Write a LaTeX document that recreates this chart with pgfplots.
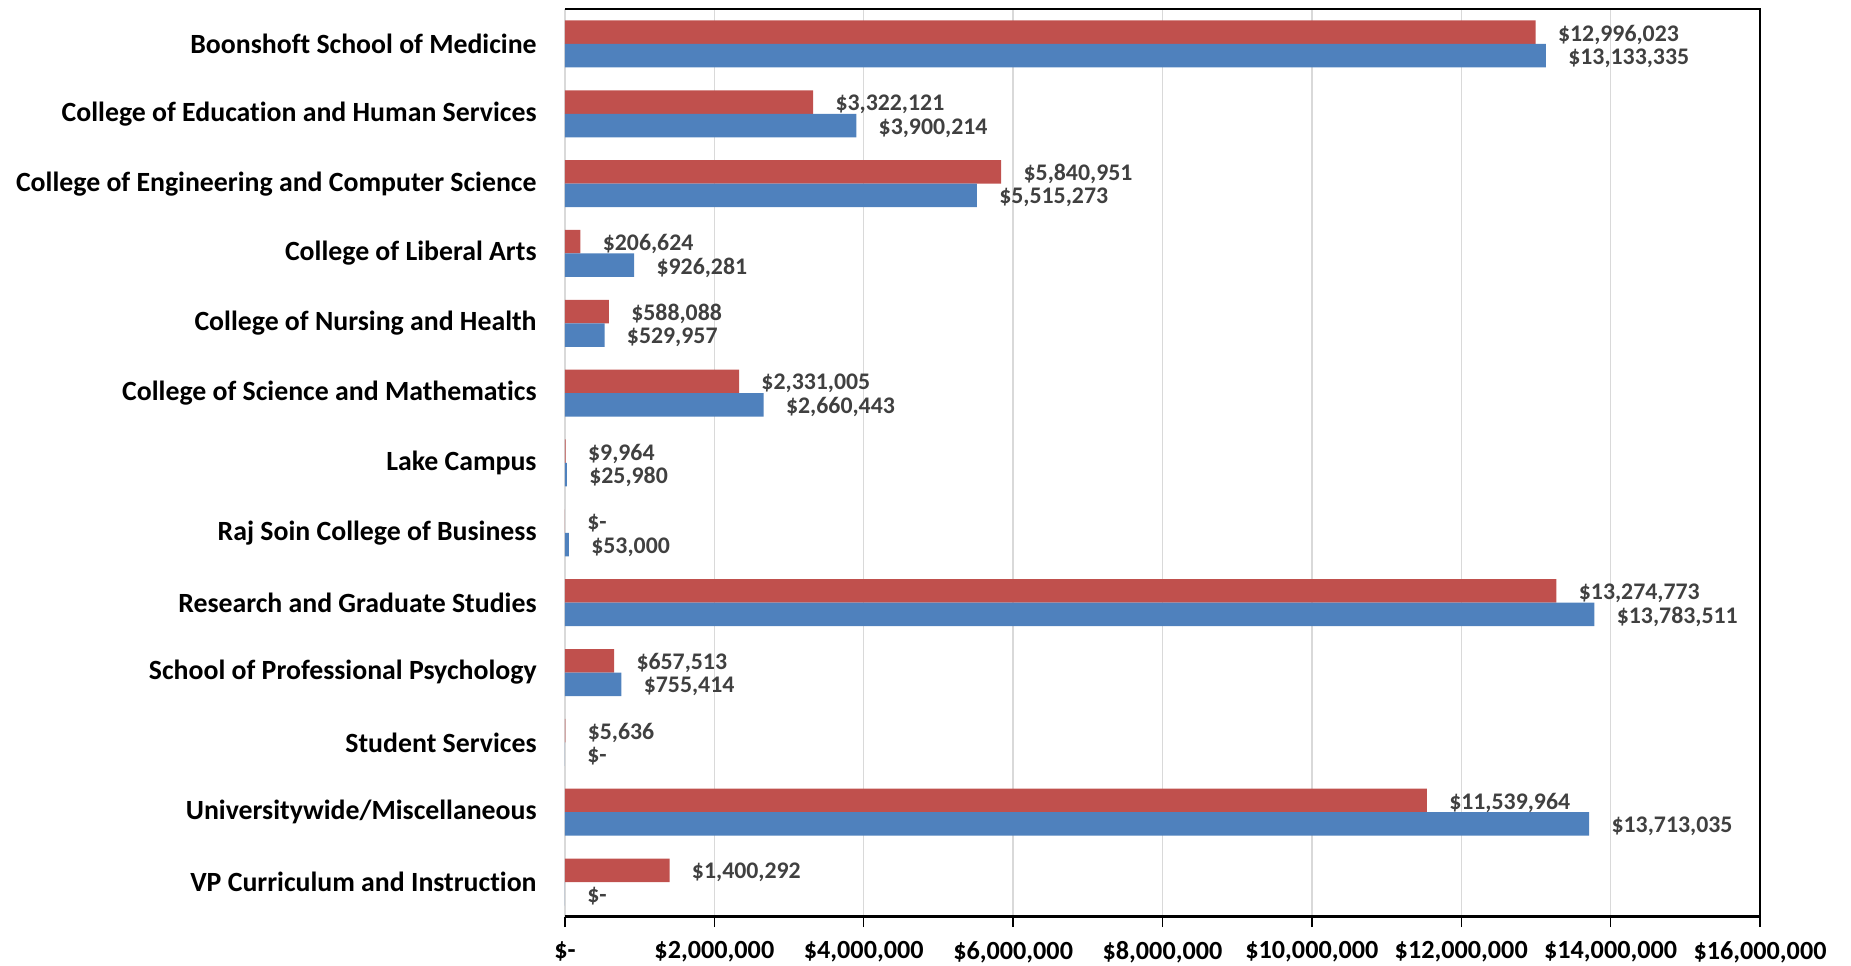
\documentclass[border=0pt]{standalone}
\usepackage{fontspec}
\setmainfont{Carlito}[Ligatures=NoCommon]
\usepackage{pgfplots}
\pgfplotsset{compat=1.18}
\usepackage{pgfplotstable}

\definecolor{barred}{HTML}{C0504D}
\definecolor{barblue}{HTML}{4F81BD}
\definecolor{lbl}{HTML}{404040}
\definecolor{gridgray}{HTML}{D9D9D9}

% categories top to bottom, plotted at 0..12 (y dir=reverse)
\pgfplotstableread{
y red blue
0  12996023 13133335
1  3322121  3900214
2  5840951  5515273
3  206624   926281
4  588088   529957
5  2331005  2660443
6  9964     25980
7  0        53000
8  13274773 13783511
9  657513   755414
10 5636     0
11 11539964 13713035
12 1400292  0
}\budget

\begin{document}
\begin{tikzpicture}
\begin{axis}[
  width=597.5pt, height=454pt,
  scale only axis,
  xbar, bar width=11.75pt,
  y dir=reverse,
  ymin=-0.5, ymax=12.5,
  xmin=0, xmax=16000000,
  xtick={0,2000000,...,16000000},
  xticklabels={{\$-},{\$2,000,000},{\$4,000,000},{\$6,000,000},{\$8,000,000},{\$10,000,000},{\$12,000,000},{\$14,000,000},{\$16,000,000}},
  scaled x ticks=false,
  ytick={0,...,12},
  yticklabels={Boonshoft School of Medicine,College of Education and Human Services,College of Engineering and Computer Science,College of Liberal Arts,College of Nursing and Health,College of Science and Mathematics,Lake Campus,Raj Soin College of Business,Research and Graduate Studies,School of Professional Psychology,Student Services,Universitywide/Miscellaneous,VP Curriculum and Instruction},
  axis line style={draw=none},
  xmajorgrids, major grid style={gridgray, line width=0.75pt},
  tick align=outside, major tick length=5pt,
  xtick pos=bottom,
  xtick style={black, line width=0.75pt},
  ytick style={draw=none},
  xticklabel style={font=\fontsize{13.1}{15}\selectfont\bfseries, inner sep=0pt, anchor=north, yshift=-7pt},
  yticklabel style={font=\fontsize{13.9}{16}\selectfont\bfseries, inner sep=0pt, anchor=east, xshift=-9pt},
  nodes near coords={\pgfmathfloatifflags{\pgfplotspointmeta}{0}{\$-}{\$\pgfmathprintnumber[fixed,precision=0,1000 sep={,},assume math mode=true]{\pgfplotspointmeta}}},
  nodes near coords style={font=\fontsize{11.9}{14}\selectfont\bfseries, text=lbl, inner sep=0pt, anchor=west, xshift=11pt, yshift=-1.2pt},
  point meta=x,
]
\addplot[draw=none, fill=barred, bar shift=5.875pt] table[x=red, y=y] {\budget};
\addplot[draw=none, fill=barblue, bar shift=-5.875pt] table[x=blue, y=y] {\budget};
\end{axis}
\draw[black, line width=1pt] (current axis.north west) -- (current axis.north east) -- (current axis.south east);
\draw[black, line width=1.5pt] (current axis.south west) -- (current axis.south east);
\pgfresetboundingbox
\path ([xshift=-282.5pt,yshift=-24.5pt]current axis.south west) rectangle ([xshift=45.5pt,yshift=4.5pt]current axis.north east);
\end{tikzpicture}
\end{document}
